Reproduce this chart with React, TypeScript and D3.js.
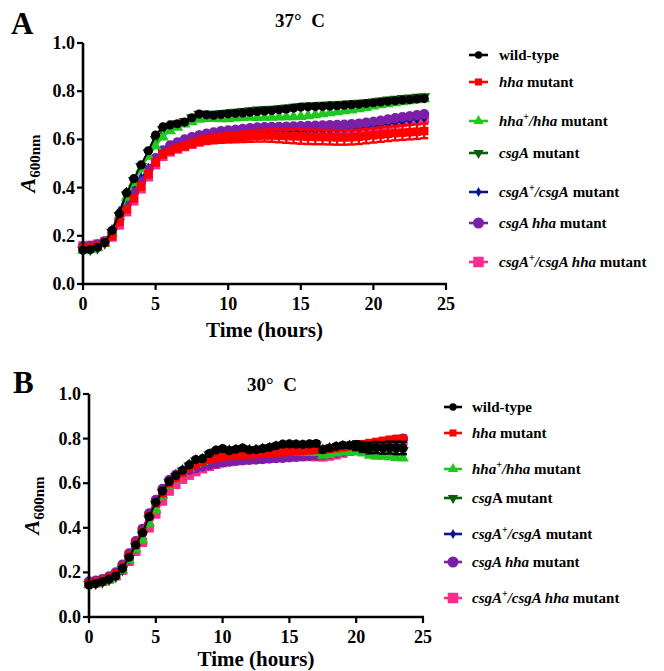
import React from "react";
import * as d3 from "d3";

// ---------- DATA ----------
const times = [0, 0.5, 1, 1.5, 2, 2.5, 3, 3.5, 4, 4.5, 5, 5.5, 6, 6.5, 7, 7.5, 8, 8.5, 9, 9.5, 10, 10.5, 11, 11.5, 12, 12.5, 13, 13.5, 14, 14.5, 15, 15.5, 16, 16.5, 17, 17.5, 18, 18.5, 19, 19.5, 20, 20.5, 21, 21.5, 22, 22.5, 23, 23.5];

const xTicks = [0, 5, 10, 15, 20, 25];
const yTicks = [0, 0.2, 0.4, 0.6, 0.8, 1.0];

// Panel A, 37 C
const wtA = [.140,.143,.152,.172,.222,.292,.378,.437,.494,.553,.618,.652,.660,.665,.672,.690,.705,.702,.700,.703,.706,.708,.710,.713,.716,.718,.720,.723,.726,.730,.734,.735,.736,.737,.739,.740,.742,.744,.746,.749,.752,.755,.758,.760,.763,.765,.768,.770];
const hhaA = [.150,.153,.160,.172,.198,.259,.310,.356,.405,.456,.505,.538,.552,.563,.573,.583,.592,.598,.602,.605,.607,.609,.611,.613,.615,.616,.616,.615,.614,.613,.612,.611,.610,.610,.609,.608,.608,.609,.611,.614,.617,.620,.623,.626,.628,.630,.632,.635];
const hhaErrA = [.008,.008,.008,.008,.010,.012,.012,.012,.012,.012,.012,.012,.012,.012,.014,.015,.016,.017,.018,.019,.020,.021,.022,.023,.024,.025,.026,.027,.028,.029,.030,.030,.030,.030,.030,.030,.030,.030,.030,.030,.030,.030,.030,.030,.030,.030,.030,.030];
const hhaCompA = [.140,.142,.150,.168,.212,.280,.360,.420,.478,.530,.572,.610,.635,.650,.663,.673,.683,.686,.686,.685,.685,.688,.690,.691,.690,.691,.692,.693,.694,.694,.695,.698,.702,.706,.710,.714,.718,.722,.727,.732,.738,.743,.748,.752,.756,.760,.764,.768];
const csgAA = [.140,.143,.150,.170,.215,.285,.370,.430,.488,.545,.600,.640,.655,.665,.675,.690,.705,.705,.705,.708,.710,.713,.716,.719,.722,.724,.726,.728,.731,.734,.737,.739,.740,.742,.743,.744,.746,.748,.750,.753,.756,.760,.764,.767,.770,.772,.775,.777];
const csgACompA = [.145,.148,.156,.175,.225,.300,.380,.410,.440,.480,.520,.545,.560,.572,.582,.592,.600,.606,.610,.614,.617,.620,.623,.626,.629,.631,.632,.632,.633,.634,.635,.636,.637,.638,.639,.640,.641,.643,.646,.650,.655,.660,.665,.670,.675,.680,.685,.690];
const csgAhhaA = [.155,.158,.165,.178,.205,.268,.330,.378,.425,.475,.522,.555,.575,.588,.600,.610,.618,.624,.629,.634,.638,.641,.644,.647,.650,.651,.652,.652,.653,.654,.655,.656,.657,.658,.659,.660,.661,.663,.666,.670,.674,.678,.683,.688,.693,.697,.701,.705];
const csgAhhaCompA = [.158,.160,.165,.175,.195,.245,.300,.345,.395,.445,.495,.530,.548,.560,.570,.580,.590,.596,.600,.604,.607,.610,.613,.616,.619,.621,.623,.624,.625,.626,.627,.628,.629,.630,.631,.632,.633,.636,.640,.645,.650,.655,.660,.665,.670,.675,.680,.685];

// Panel B, 30 C
const wtB = [.143,.150,.158,.170,.184,.218,.268,.323,.378,.450,.514,.565,.608,.634,.658,.682,.706,.710,.733,.748,.755,.746,.752,.758,.749,.750,.755,.760,.768,.775,.776,.775,.774,.776,.778,.750,.758,.765,.770,.770,.768,.762,.758,.760,.758,.760,.758,.758];
const wtErrB = [.004,.004,.004,.004,.004,.004,.004,.004,.004,.004,.006,.006,.006,.006,.006,.006,.006,.006,.006,.006,.008,.008,.008,.008,.008,.008,.008,.008,.008,.008,.010,.010,.010,.010,.010,.010,.010,.010,.010,.010,.020,.022,.024,.025,.026,.027,.028,.028];
const hhaB = [.150,.155,.162,.175,.192,.225,.275,.330,.385,.455,.510,.555,.600,.625,.648,.668,.685,.697,.706,.713,.718,.722,.725,.727,.729,.731,.733,.735,.737,.739,.741,.743,.745,.747,.749,.751,.754,.757,.761,.765,.770,.775,.780,.785,.790,.795,.798,.800];
const hhaCompB = [.145,.150,.157,.168,.182,.210,.255,.305,.345,.420,.480,.545,.590,.620,.645,.665,.685,.697,.710,.720,.728,.732,.734,.735,.736,.737,.738,.739,.740,.740,.740,.740,.739,.738,.737,.725,.728,.735,.740,.742,.740,.735,.725,.720,.720,.718,.715,.712];
const csgAB = [.145,.150,.157,.168,.182,.212,.262,.315,.368,.440,.505,.558,.602,.630,.655,.678,.700,.706,.728,.742,.750,.745,.750,.754,.748,.750,.754,.758,.765,.770,.772,.771,.770,.771,.772,.748,.755,.760,.763,.763,.760,.755,.752,.750,.750,.748,.748,.746];
const csgACompB = [.147,.152,.160,.172,.188,.222,.272,.328,.382,.455,.518,.570,.612,.638,.660,.684,.705,.710,.730,.745,.752,.748,.752,.756,.750,.752,.756,.760,.766,.770,.772,.772,.771,.772,.773,.752,.758,.764,.768,.770,.770,.770,.768,.768,.769,.770,.770,.770];
const csgAhhaB = [.160,.163,.170,.182,.200,.235,.285,.340,.395,.465,.525,.575,.615,.638,.650,.660,.668,.675,.682,.688,.693,.697,.700,.702,.704,.706,.708,.710,.712,.714,.716,.718,.720,.722,.724,.727,.731,.736,.742,.750,.758,.765,.772,.778,.784,.790,.795,.800];
const csgAhhaCompB = [.150,.153,.160,.170,.185,.210,.250,.295,.335,.400,.462,.520,.565,.595,.618,.636,.652,.665,.676,.685,.692,.697,.701,.704,.706,.708,.710,.712,.714,.716,.718,.719,.720,.720,.719,.718,.722,.728,.735,.743,.750,.757,.763,.769,.775,.780,.785,.790];

// Legend labels: [text, italic, superscript]
type Seg = [string, boolean, boolean?];
const labelsA: Record<string, Seg[]> = {
  wt: [["wild-type", false]],
  hha: [["hha", true], [" mutant", false]],
  hhaComp: [["hha", true], ["+", false, true], ["/hha", true], [" mutant", false]],
  csgA: [["csgA", true], [" mutant", false]],
  csgAComp: [["csgA", true], ["+", false, true], ["/csgA", true], [" mutant", false]],
  csgAhha: [["csgA hha", true], [" mutant", false]],
  csgAhhaComp: [["csgA", true], ["+", false, true], ["/csgA hha", true], [" mutant", false]],
};
const labelsB: Record<string, Seg[]> = {
  ...labelsA,
  csgA: [["csg", true], ["A", false], [" mutant", false]],
};

const legendOrder = ["wt", "hha", "hhaComp", "csgA", "csgAComp", "csgAhha", "csgAhhaComp"];
const drawOrder = ["csgAhhaComp", "csgAComp", "csgAhha", "csgA", "hhaComp", "hha", "wt"];

// ---------- STYLES ----------
const STYLE: Record<string, { color: string; shape: string; size: number; leg: number }> = {
  wt: { color: "#000000", shape: "circle", size: 66, leg: 42 },
  hha: { color: "#ff0000", shape: "square", size: 72, leg: 50 },
  hhaComp: { color: "#1ec81e", shape: "triangle", size: 60, leg: 45 },
  csgA: { color: "#0b5c0b", shape: "triangleDown", size: 60, leg: 45 },
  csgAComp: { color: "#0c168c", shape: "diamond", size: 40, leg: 30 },
  csgAhha: { color: "#7a1fa6", shape: "circle", size: 82, leg: 95 },
  csgAhhaComp: { color: "#ff2a8e", shape: "square", size: 90, leg: 110 },
};

const FONT = "'Liberation Serif', 'Times New Roman', serif";

function symPath(shape: string, size: number) {
  const t =
    shape === "circle" ? d3.symbolCircle :
    shape === "square" ? d3.symbolSquare :
    shape === "diamond" ? d3.symbolDiamond : d3.symbolTriangle;
  return d3.symbol().type(t).size(size)() as string;
}

type PanelCfg = {
  letter: string; title: string; titleX: number; titleY: number; letterX: number; letterY: number;
  left: number; right: number; top: number; bottom: number;
  yLabelX: number; xLabelY: number;
  legX1: number; legX2: number; legTX: number; legYs: number[];
};

function Panel({ cfg, series, errs, labels }: { cfg: PanelCfg; series: Record<string, number[]>; errs: Record<string, number[]>; labels: Record<string, Seg[]> }) {
  const x = d3.scaleLinear().domain([0, 25]).range([cfg.left, cfg.right]);
  const y = d3.scaleLinear().domain([0, 1]).range([cfg.bottom, cfg.top]);
  const line = d3.line<number>().x((_, i) => x(times[i])).y((v) => y(v));
  return (
    <g>
      <text x={cfg.letterX} y={cfg.letterY} fontFamily={FONT} fontWeight="bold" fontSize={31}>{cfg.letter}</text>
      <text x={cfg.titleX} y={cfg.titleY} fontFamily={FONT} fontWeight="bold" fontSize={19} textAnchor="middle">{cfg.title}</text>

      {drawOrder.map((k) => {
        const st = STYLE[k];
        const vals = series[k];
        const err = errs[k];
        const p = symPath(st.shape, st.size);
        return (
          <g key={k}>
            {err && vals.map((v, i) => (
              <g key={"e" + i} stroke={st.color} strokeWidth={2.4}>
                <line x1={x(times[i])} x2={x(times[i])} y1={y(v - err[i])} y2={y(v + err[i])} />
                <line x1={x(times[i]) - 4} x2={x(times[i]) + 4} y1={y(v - err[i])} y2={y(v - err[i])} />
                <line x1={x(times[i]) - 4} x2={x(times[i]) + 4} y1={y(v + err[i])} y2={y(v + err[i])} />
              </g>
            ))}
            <path d={line(vals) as string} fill="none" stroke={st.color} strokeWidth={1.8} />
            {vals.map((v, i) => (
              <path key={i} d={p} fill={st.color}
                transform={`translate(${x(times[i])},${y(v)})${st.shape === "triangleDown" ? " rotate(180)" : ""}`} />
            ))}
          </g>
        );
      })}

      {/* axes */}
      <line x1={cfg.left} x2={cfg.left} y1={y(0) + 1.2} y2={y(1)} stroke="#000" strokeWidth={2.6} />
      <line x1={cfg.left - 1.2} x2={x(25) + 1} y1={y(0)} y2={y(0)} stroke="#000" strokeWidth={2.6} />
      {yTicks.map((t) => (
        <g key={"y" + t}>
          <line x1={cfg.left - 6} x2={cfg.left} y1={y(t)} y2={y(t)} stroke="#000" strokeWidth={2.2} />
          <text x={cfg.left - 8} y={y(t) + 6} fontFamily={FONT} fontWeight="bold" fontSize={18} textAnchor="end">{t.toFixed(1)}</text>
        </g>
      ))}
      {xTicks.map((t) => (
        <g key={"x" + t}>
          <line x1={x(t)} x2={x(t)} y1={y(0)} y2={y(0) + 6} stroke="#000" strokeWidth={2.2} />
          <text x={x(t)} y={y(0) + 26} fontFamily={FONT} fontWeight="bold" fontSize={18} textAnchor="middle">{t}</text>
        </g>
      ))}
      <text x={(cfg.left + cfg.right) / 2} y={cfg.xLabelY} fontFamily={FONT} fontWeight="bold" fontSize={21} textAnchor="middle">Time (hours)</text>
      <text transform={`translate(${cfg.yLabelX},${(cfg.top + cfg.bottom) / 2}) rotate(-90)`} fontFamily={FONT} fontWeight="bold" textAnchor="middle">
        <tspan fontStyle="italic" fontSize={22}>A</tspan>
        <tspan fontSize={15} dy={5}>600nm</tspan>
      </text>

      {/* legend */}
      {legendOrder.map((k, j) => {
        const st = STYLE[k];
        const ly = cfg.legYs[j];
        const mx = (cfg.legX1 + cfg.legX2) / 2;
        return (
          <g key={"l" + k}>
            <line x1={cfg.legX1} x2={cfg.legX2} y1={ly} y2={ly} stroke={st.color} strokeWidth={2.6} />
            <path d={symPath(st.shape, st.leg)} fill={st.color}
              transform={`translate(${mx},${ly})${st.shape === "triangleDown" ? " rotate(180)" : ""}`} />
            <text x={cfg.legTX} y={ly + 5} fontFamily={FONT} fontWeight="bold" fontSize={15}>
              {labels[k].map((s, si) => {
                const prevSup = si > 0 && labels[k][si - 1][2];
                return (
                  <tspan key={si} fontStyle={s[1] ? "italic" : "normal"}
                    fontSize={s[2] ? 10 : 15}
                    dy={s[2] ? -6 : prevSup ? 6 : 0}>{s[0]}</tspan>
                );
              })}
            </text>
          </g>
        );
      })}
    </g>
  );
}

const cfgA: PanelCfg = {
  letter: "A", title: "37°\u00a0 C", titleX: 300, titleY: 27, letterX: 11, letterY: 34,
  left: 83, right: 446, top: 43, bottom: 284, yLabelX: 35, xLabelY: 337,
  legX1: 469, legX2: 488, legTX: 499, legYs: [55, 82, 121, 153, 192, 223, 262],
};
const cfgB: PanelCfg = {
  letter: "B", title: "30°\u00a0 C", titleX: 272, titleY: 391, letterX: 13, letterY: 393,
  left: 89, right: 423, top: 394, bottom: 617, yLabelX: 39, xLabelY: 666,
  legX1: 444, legX2: 462, legTX: 472, legYs: [407, 433, 469, 498, 534, 562, 598],
};

export default function App() {
  const seriesA = { wt: wtA, hha: hhaA, hhaComp: hhaCompA, csgA: csgAA, csgAComp: csgACompA, csgAhha: csgAhhaA, csgAhhaComp: csgAhhaCompA };
  const seriesB = { wt: wtB, hha: hhaB, hhaComp: hhaCompB, csgA: csgAB, csgAComp: csgACompB, csgAhha: csgAhhaB, csgAhhaComp: csgAhhaCompB };
  return (
    <svg width={664} height={671} style={{ position: "absolute", left: 0, top: 0, background: "#fff" }}>
      <rect width={664} height={671} fill="#fff" />
      <Panel cfg={cfgA} series={seriesA} errs={{ hha: hhaErrA }} labels={labelsA} />
      <Panel cfg={cfgB} series={seriesB} errs={{ wt: wtErrB }} labels={labelsB} />
    </svg>
  );
}
